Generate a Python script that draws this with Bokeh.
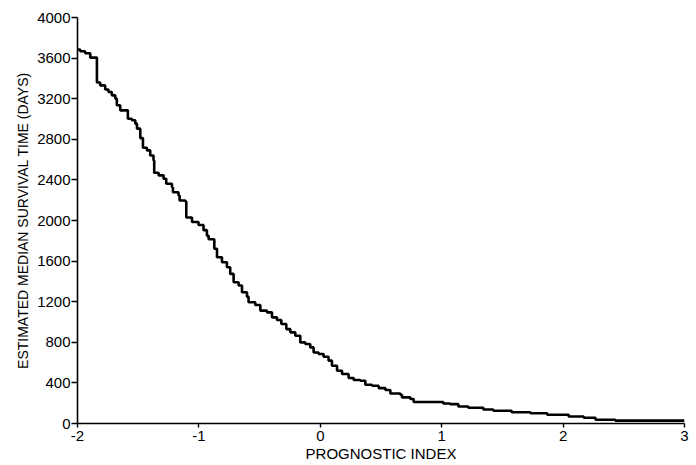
from bokeh.plotting import figure
from bokeh.models import Range1d, FixedTicker
from bokeh.embed import file_html
from bokeh.resources import INLINE

# Step curve (prognostic index, estimated median survival in days)
prognostic_index = [-2.000, -1.978, -1.937, -1.895, -1.840, -1.813, -1.772, -1.745, -1.717, -1.689,
                    -1.676, -1.648, -1.585, -1.552, -1.524, -1.510, -1.483, -1.461, -1.428, -1.401,
                    -1.374, -1.368, -1.332, -1.291, -1.269, -1.222, -1.214, -1.168, -1.159, -1.112,
                    -1.104, -1.057, -1.003, -0.962, -0.934, -0.920, -0.873, -0.851, -0.810, -0.769,
                    -0.742, -0.714, -0.673, -0.645, -0.604, -0.591, -0.536, -0.494, -0.439, -0.398,
                    -0.357, -0.321, -0.280, -0.247, -0.206, -0.165, -0.124, -0.083, -0.055, -0.014,
                    0.027, 0.068, 0.096, 0.138, 0.179, 0.233, 0.275, 0.330, 0.371, 0.426,
                    0.481, 0.536, 0.577, 0.659, 0.673, 0.742, 0.769, 1.013, 1.068, 1.137,
                    1.219, 1.343, 1.425, 1.577, 1.731, 1.869, 2.046, 2.170, 2.267, 2.431,
                    3.000]
median_days = [3685, 3667, 3648, 3605, 3360, 3331, 3290, 3266, 3233, 3201,
               3135, 3085, 3003, 2987, 2954, 2905, 2812, 2717, 2691, 2641,
               2592, 2470, 2445, 2411, 2362, 2329, 2279, 2247, 2197, 2188,
               2030, 1985, 1955, 1905, 1850, 1815, 1721, 1638, 1589, 1539,
               1474, 1391, 1359, 1293, 1250, 1194, 1168, 1112, 1095, 1046,
               1020, 980, 930, 898, 865, 799, 783, 750, 700, 685,
               658, 619, 569, 520, 487, 448, 428, 421, 382, 372,
               349, 330, 296, 283, 257, 241, 212, 197, 191, 168,
               155, 138, 125, 111, 101, 86, 69, 57, 37, 28,
               28]

x_ticks = [-2, -1, 0, 1, 2, 3]
y_ticks = [0, 400, 800, 1200, 1600, 2000, 2400, 2800, 3200, 3600, 4000]

FONT = "Liberation Sans"

p = figure(frame_width=607, frame_height=406, output_backend="svg", toolbar_location=None,
           x_range=Range1d(-2, 3), y_range=Range1d(0, 4000),
           min_border_left=77, min_border_right=8, min_border_top=17, min_border_bottom=42)
p.outline_line_color = None
p.xgrid.visible = False
p.ygrid.visible = False
p.background_fill_color = "white"
p.border_fill_color = "white"

p.step(prognostic_index, median_days, mode="after", line_color="black", line_width=2.6)

for ax in (p.xaxis[0], p.yaxis[0]):
    ax.axis_line_color = "black"
    ax.axis_line_width = 1.6
    ax.major_tick_line_color = "black"
    ax.major_tick_line_width = 1.4
    ax.minor_tick_line_color = None
    ax.major_label_text_color = "black"
    ax.major_label_text_font = FONT
    ax.axis_label_text_font = FONT
    ax.axis_label_text_font_style = "normal"
    ax.axis_label_text_color = "black"

p.xaxis.ticker = FixedTicker(ticks=x_ticks)
p.xaxis.major_label_overrides = {-2: "-2", -1: "-1"}
p.xaxis.major_tick_in = 0
p.xaxis.major_tick_out = 4
p.xaxis.major_label_standoff = 3
p.xaxis.major_label_text_font_size = "15px"
p.xaxis.axis_label = "PROGNOSTIC INDEX"
p.xaxis.axis_label_text_font_size = "15px"
p.xaxis.axis_label_standoff = 1

p.yaxis.ticker = FixedTicker(ticks=y_ticks)
p.yaxis.major_tick_in = 0
p.yaxis.major_tick_out = 6
p.yaxis.major_label_standoff = 1
p.yaxis.major_label_text_font_size = "15px"
p.yaxis.axis_label = "ESTIMATED MEDIAN SURVIVAL TIME (DAYS)"
p.yaxis.axis_label_text_font_size = "14px"
p.yaxis.axis_label_standoff = 3

open("out.html", "w").write(file_html(p, INLINE))
